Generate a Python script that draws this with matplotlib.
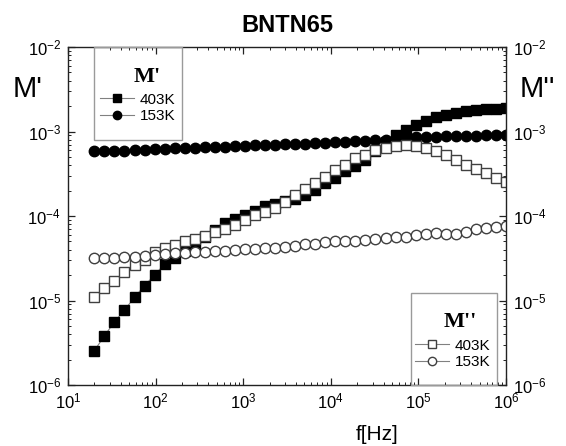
import matplotlib
matplotlib.use("Agg")
import matplotlib.pyplot as plt
from matplotlib.patches import Rectangle

plt.rcParams["font.family"] = ["Liberation Sans", "DejaVu Sans"]
plt.rcParams["mathtext.fontset"] = "custom"
plt.rcParams["mathtext.rm"] = "Liberation Sans"

# Data
freq = [20, 26, 33.9, 44.1, 57.5, 74.8, 97.4, 126.9, 165.2, 215.1, 280, 364.6,
        474.7, 618, 804.6, 1048, 1364, 1776, 2312, 3010, 3919, 5103, 6644, 8650,
        11260, 14670, 19100, 24860, 32370, 42150, 54870, 71440, 93010, 121100,
        157700, 205300, 267300, 348000, 453100, 589900, 768000, 1000000]

m1_403 = [2.55e-6, 3.8e-6, 5.6e-6, 7.7e-6, 1.09e-5, 1.5e-5, 2.0e-5, 2.7e-5, 3.2e-5,
          3.9e-5, 4.7e-5, 5.7e-5, 6.8e-5, 8.2e-5, 9.1e-5, 1.03e-4, 1.16e-4, 1.3e-4,
          1.4e-4, 1.5e-4, 1.6e-4, 1.75e-4, 2.05e-4, 2.45e-4, 2.85e-4, 3.4e-4, 3.9e-4,
          4.6e-4, 5.8e-4, 7.6e-4, 9.0e-4, 1.04e-3, 1.19e-3, 1.34e-3, 1.47e-3, 1.57e-3,
          1.66e-3, 1.73e-3, 1.79e-3, 1.83e-3, 1.86e-3, 1.88e-3]

m1_153 = [5.8e-4, 5.85e-4, 5.9e-4, 5.95e-4, 6.0e-4, 6.1e-4, 6.15e-4, 6.2e-4, 6.3e-4,
          6.35e-4, 6.4e-4, 6.5e-4, 6.55e-4, 6.6e-4, 6.7e-4, 6.75e-4, 6.85e-4, 6.9e-4,
          7.0e-4, 7.05e-4, 7.15e-4, 7.2e-4, 7.3e-4, 7.4e-4, 7.45e-4, 7.55e-4, 7.65e-4,
          7.75e-4, 7.85e-4, 8.0e-4, 8.3e-4, 8.45e-4, 8.55e-4, 8.65e-4, 8.7e-4, 8.8e-4,
          8.85e-4, 8.9e-4, 8.95e-4, 9.0e-4, 9.05e-4, 9.1e-4]

m2_403 = [1.11e-5, 1.39e-5, 1.7e-5, 2.2e-5, 2.63e-5, 3.0e-5, 3.8e-5, 4.15e-5, 4.5e-5,
          5.0e-5, 5.3e-5, 5.8e-5, 6.5e-5, 7.0e-5, 7.8e-5, 9.0e-5, 1.03e-4, 1.12e-4,
          1.23e-4, 1.45e-4, 1.75e-4, 2.1e-4, 2.44e-4, 2.92e-4, 3.5e-4, 4.0e-4, 4.8e-4,
          5.3e-4, 6.0e-4, 6.3e-4, 6.8e-4, 6.9e-4, 6.8e-4, 6.3e-4, 5.9e-4, 5.3e-4,
          4.6e-4, 4.0e-4, 3.6e-4, 3.2e-4, 2.8e-4, 2.5e-4]

m2_153 = [3.16e-5, 3.2e-5, 3.2e-5, 3.26e-5, 3.3e-5, 3.4e-5, 3.5e-5, 3.55e-5, 3.6e-5,
          3.6e-5, 3.7e-5, 3.7e-5, 3.83e-5, 3.9e-5, 4.0e-5, 4.05e-5, 4.1e-5, 4.2e-5,
          4.2e-5, 4.3e-5, 4.4e-5, 4.6e-5, 4.7e-5, 4.9e-5, 5.0e-5, 5.0e-5, 5.1e-5,
          5.2e-5, 5.3e-5, 5.5e-5, 5.6e-5, 5.7e-5, 5.9e-5, 6.1e-5, 6.3e-5, 6.2e-5,
          6.1e-5, 6.5e-5, 7.0e-5, 7.2e-5, 7.4e-5, 7.6e-5]

labels = ["403K", "153K"]

fig = plt.figure(figsize=(5.66, 4.46), dpi=100)
ax = fig.add_axes([68 / 566, 1 - 385 / 446, 438 / 566, 338 / 446])

line_kw = dict(color="#808080", linewidth=0.8, markersize=7.5)
h1, = ax.plot(freq, m1_403, marker="s", mfc="black", mec="black", label=labels[0], **line_kw)
h2, = ax.plot(freq, m1_153, marker="o", mfc="black", mec="black", label=labels[1], **line_kw)
h3, = ax.plot(freq, m2_403, marker="s", mfc="white", mec="#404040", mew=1.0, label=labels[0], **line_kw)
h4, = ax.plot(freq, m2_153, marker="o", mfc="white", mec="#404040", mew=1.0, label=labels[1], **line_kw)

ax.set_xscale("log")
ax.set_yscale("log")
ax.set_xlim(10, 1e6)
ax.set_ylim(1e-6, 1e-2)

for s in ax.spines.values():
    s.set_linewidth(1.0)
    s.set_color("#222222")
ax.tick_params(which="both", direction="in", top=True, right=True,
               labelright=True, labelsize=12, color="#222222")
ax.tick_params(which="major", length=5, width=0.9, pad=5)
ax.tick_params(which="minor", length=2.5, width=0.7)

# Axis labels and title
fig.text(287 / 566, 1 - 26 / 446, "BNTN65", ha="center", va="center",
         fontsize=17, fontweight="bold")
ax.set_xlabel("f[Hz]", fontsize=15)
ax.xaxis.set_label_coords(0.705, -0.118)
fig.text(28 / 566, 1 - 89 / 446, "M'", ha="center", va="center", fontsize=21)
fig.text(537 / 566, 1 - 89 / 446, "M''", ha="center", va="center", fontsize=21)

# Legend boxes
box_kw = dict(transform=ax.transAxes, fill=False, edgecolor="#9a9a9a",
              linewidth=1.0, clip_on=False, zorder=5)
ax.add_patch(Rectangle((0.059, 0.725), 0.201, 0.275, **box_kw))
ax.add_patch(Rectangle((0.783, 0.0), 0.196, 0.272, **box_kw))

ax.text(0.18, 0.911, "M'", transform=ax.transAxes, ha="center", va="center",
        fontsize=16, fontweight="bold", family="Liberation Serif")
ax.text(0.895, 0.186, "M''", transform=ax.transAxes, ha="center", va="center",
        fontsize=16, fontweight="bold", family="Liberation Serif")

leg_kw = dict(frameon=False, fontsize=11, handlelength=2.2, handletextpad=0.4,
              labelspacing=0.15, borderpad=0, borderaxespad=0, markerscale=0.8)
leg1 = ax.legend([h1, h2], labels, loc="upper left",
                 bbox_to_anchor=(0.073, 0.865), **leg_kw)
ax.add_artist(leg1)
ax.legend([h3, h4], labels, loc="upper left",
          bbox_to_anchor=(0.792, 0.137), **leg_kw)

fig.savefig("out.png", dpi=100)
